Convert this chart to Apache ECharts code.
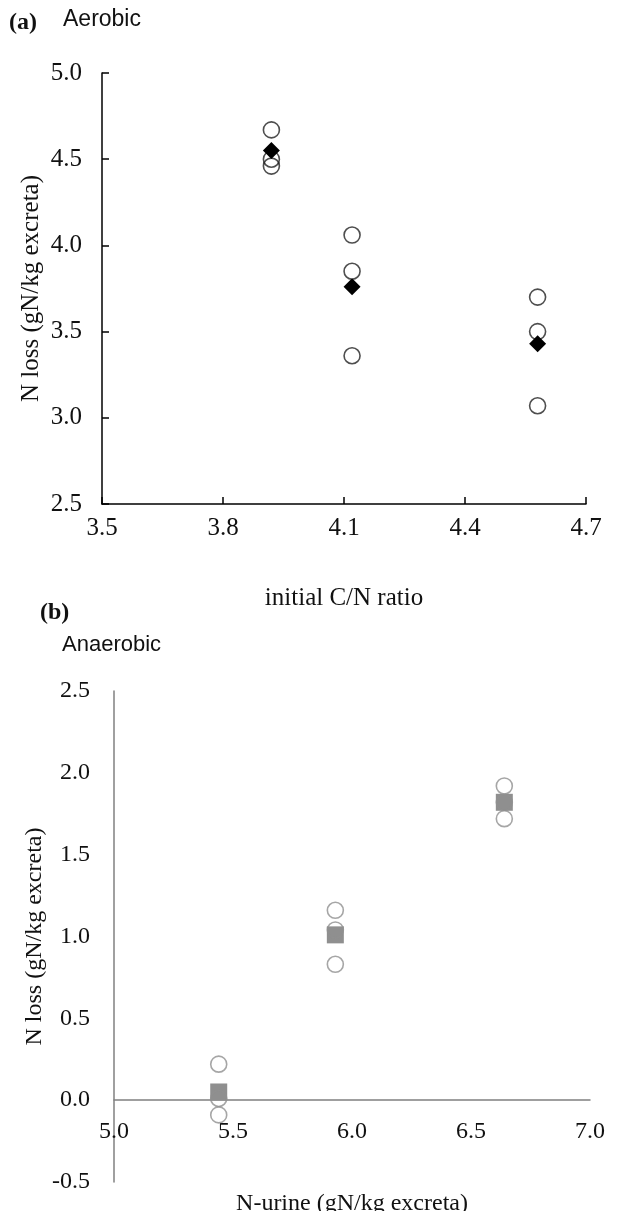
<!DOCTYPE html>
<html>
<head>
<meta charset="utf-8">
<script src="https://cdn.jsdelivr.net/npm/echarts@6/dist/echarts.min.js"></script>
<style>
html,body{margin:0;padding:0;background:#fff;}
#chart{width:619px;height:1211px;}
</style>
</head>
<body>
<div id="chart"></div>
<script>
// ---- Panel (a) Aerobic ----
const aerobicCN = [3.92, 4.12, 4.58];                 // initial C/N ratio
const aerobicReps = [[4.67, 4.50, 4.46], [4.06, 3.85, 3.36], [3.70, 3.50, 3.07]];
const aerobicMean = [4.55, 3.76, 3.43];
const aerobicXTicks = [3.5, 3.8, 4.1, 4.4, 4.7];
const aerobicYTicks = [2.5, 3.0, 3.5, 4.0, 4.5, 5.0];

// ---- Panel (b) Anaerobic ----
const anaerobicUrine = [5.44, 5.93, 6.64];            // N-urine
const anaerobicReps = [[0.22, 0.01, -0.09], [1.16, 1.04, 0.83], [1.92, 1.82, 1.72]];
const anaerobicMean = [0.05, 1.01, 1.82];
const anaerobicXTicks = [5.0, 5.5, 6.0, 6.5, 7.0];
const anaerobicYTicks = [-0.5, 0.0, 0.5, 1.0, 1.5, 2.0, 2.5];

const serif = 'Liberation Serif';
const sans = 'Liberation Sans';

function reps(xs, reps) {
  const out = [];
  xs.forEach((x, i) => reps[i].forEach(v => out.push([x, v])));
  return out;
}
function pairs(xs, ys) { return xs.map((x, i) => [x, ys[i]]); }
const fmt = v => Number(v).toFixed(1);

const chart = echarts.init(document.getElementById('chart'), null, {renderer: 'canvas'});
chart.setOption({
  backgroundColor: '#fff',
  animation: false,
  grid: [
    {left: 102, right: 33, top: 73, height: 431, outerBoundsMode: 'none', containLabel: false},
    {left: 114, right: 29, top: 691, height: 491, outerBoundsMode: 'none', containLabel: false}
  ],
  xAxis: [
    {
      type: 'value', gridIndex: 0, min: 3.5, max: 4.7,
      splitLine: {show: false},
      axisLine: {onZero: false, lineStyle: {color: '#000', width: 1.5}},
      axisTick: {show: true, inside: true, length: 7, customValues: aerobicXTicks, lineStyle: {color: '#000', width: 1.5}},
      axisLabel: {customValues: aerobicXTicks, formatter: fmt, margin: 12, color: '#111', fontFamily: serif, fontSize: 25},
      name: 'initial C/N ratio', nameLocation: 'middle', nameGap: 82, nameMoveOverlap: false,
      nameTextStyle: {color: '#111', fontFamily: serif, fontSize: 25, verticalAlign: 'top'}
    },
    {
      type: 'value', gridIndex: 1, min: 5.0, max: 7.0,
      splitLine: {show: false},
      axisLine: {onZero: true, lineStyle: {color: '#808080', width: 1.5}},
      axisTick: {show: false},
      axisLabel: {customValues: anaerobicXTicks, formatter: fmt, margin: -62, color: '#111', fontFamily: serif, fontSize: 24},
      name: 'N-urine (gN/kg excreta)', nameLocation: 'middle', nameGap: 10, nameMoveOverlap: false,
      nameTextStyle: {color: '#111', fontFamily: serif, fontSize: 24, verticalAlign: 'top'}
    }
  ],
  yAxis: [
    {
      type: 'value', gridIndex: 0, min: 2.5, max: 5.0,
      splitLine: {show: false},
      axisLine: {show: true, onZero: false, lineStyle: {color: '#000', width: 1.5}},
      axisTick: {show: true, inside: true, length: 7, customValues: aerobicYTicks, lineStyle: {color: '#000', width: 1.5}},
      axisLabel: {customValues: aerobicYTicks, formatter: fmt, margin: 20, color: '#111', fontFamily: serif, fontSize: 25},
      name: 'N loss (gN/kg excreta)', nameLocation: 'middle', nameGap: 58, nameRotate: 90, nameMoveOverlap: false,
      nameTextStyle: {color: '#111', fontFamily: serif, fontSize: 25}
    },
    {
      type: 'value', gridIndex: 1, min: -0.5, max: 2.5,
      splitLine: {show: false},
      axisLine: {show: true, onZero: false, lineStyle: {color: '#808080', width: 1.5}},
      axisTick: {show: false},
      axisLabel: {customValues: anaerobicYTicks, formatter: fmt, margin: 24, color: '#111', fontFamily: serif, fontSize: 24},
      name: 'N loss (gN/kg excreta)', nameLocation: 'middle', nameGap: 67, nameRotate: 90, nameMoveOverlap: false,
      nameTextStyle: {color: '#111', fontFamily: serif, fontSize: 24}
    }
  ],
  series: [
    {
      name: 'Aerobic replicates', type: 'scatter', xAxisIndex: 0, yAxisIndex: 0,
      data: reps(aerobicCN, aerobicReps), symbol: 'circle', symbolSize: 16, z: 2,
      itemStyle: {color: 'rgba(255,255,255,0)', borderColor: '#222', borderWidth: 1.6}
    },
    {
      name: 'Aerobic mean', type: 'scatter', xAxisIndex: 0, yAxisIndex: 0,
      data: pairs(aerobicCN, aerobicMean), symbol: 'diamond', symbolSize: 17, z: 3,
      itemStyle: {color: '#000', opacity: 1}
    },
    {
      name: 'Anaerobic mean', type: 'scatter', xAxisIndex: 1, yAxisIndex: 1,
      data: pairs(anaerobicUrine, anaerobicMean), symbol: 'rect', symbolSize: 17, z: 2,
      itemStyle: {color: '#8f8f8f', opacity: 1}
    },
    {
      name: 'Anaerobic replicates', type: 'scatter', xAxisIndex: 1, yAxisIndex: 1,
      data: reps(anaerobicUrine, anaerobicReps), symbol: 'circle', symbolSize: 16, z: 3,
      itemStyle: {color: 'rgba(255,255,255,0)', borderColor: '#909090', borderWidth: 1.6}
    }
  ],
  graphic: [
    {type: 'text', left: 9, top: 11, style: {text: '(a)', font: 'bold 24px "Liberation Serif"', fill: '#111'}},
    {type: 'text', left: 63, top: 8, style: {text: 'Aerobic', font: '23px "Liberation Sans"', fill: '#111'}},
    {type: 'text', left: 40, top: 601, style: {text: '(b)', font: 'bold 24px "Liberation Serif"', fill: '#111'}},
    {type: 'text', left: 62, top: 634, style: {text: 'Anaerobic', font: '22px "Liberation Sans"', fill: '#111'}}
  ]
});
</script>
</body>
</html>
